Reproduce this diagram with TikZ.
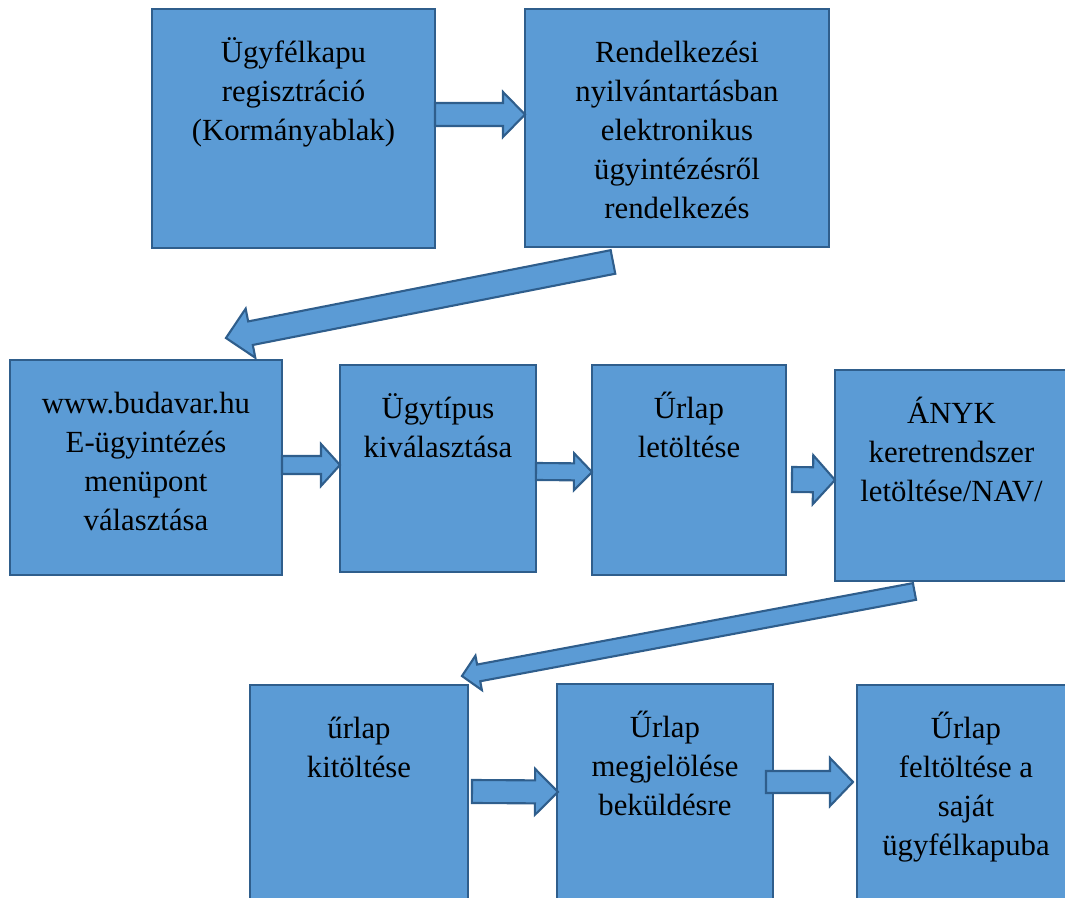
\documentclass[tikz,border=0pt]{standalone}
\usepackage{fontspec}
\setmainfont{Liberation Serif}
\usetikzlibrary{calc}
\definecolor{boxfill}{HTML}{5B9BD5}
\definecolor{boxline}{HTML}{2F5E8C}
% block arrow: start, tip, shaft half width, head half width, head length
\newcommand{\blockarrow}[5]{%
    \coordinate (ba-s) at #1;
    \coordinate (ba-t) at #2;
    \coordinate (ba-h) at ($(ba-t)!#5!(ba-s)$);
    \draw[barrow] ($(ba-s)!#3!90:(ba-t)$) -- ($(ba-h)!#3!-90:(ba-s)$)
        -- ($(ba-h)!#4!-90:(ba-s)$) -- (ba-t) -- ($(ba-h)!#4!90:(ba-s)$)
        -- ($(ba-h)!#3!90:(ba-s)$) -- ($(ba-s)!#3!-90:(ba-t)$) -- cycle;}

\begin{document}
\begin{tikzpicture}[x=0.02cm, y=-0.02cm]
    \tikzstyle{rec} = [rectangle, draw=boxline, fill=boxfill, line width=1.2pt, anchor=north west, outer sep=0pt, inner sep=0pt]
    \tikzstyle{txt} = [anchor=north, yshift=-15pt, inner sep=0pt, align=center, font=\fontsize{17.5}{22.1}\selectfont]
    \tikzstyle{barrow} = [draw=boxline, fill=boxfill, line width=1.2pt, line join=miter]

    \useasboundingbox (0,0) rectangle (1065,897);
    \clip (0,0) rectangle (1065,897);

    \node(kapu) [rec, minimum width=5.66cm, minimum height=4.78cm, label={[txt]north:{\strut Ügyfélkapu\\regisztráció\\(Kormányablak)}}] at (152,9) {};
    \node(rendel) [rec, minimum width=6.08cm, minimum height=4.76cm, label={[txt]north:{\strut Rendelkezési\\nyilvántartásban\\elektronikus\\ügyintézésről\\rendelkezés}}] at (525,9) {};

    \node(budavar) [rec, minimum width=5.44cm, minimum height=4.30cm, label={[txt]north:{\strut www.budavar.hu\\E-ügyintézés\\menüpont\\választása}}] at (10,360) {};
    \node(tipus) [rec, minimum width=3.92cm, minimum height=4.14cm, label={[txt]north:{\strut Ügytípus\\kiválasztása}}] at (340,365) {};
    \node(letolt) [rec, minimum width=3.88cm, minimum height=4.20cm, label={[txt]north:{\strut Űrlap\\letöltése}}] at (592,365) {};
    \node(anyk) [rec, minimum width=4.66cm, minimum height=4.22cm, label={[txt]north:{\strut ÁNYK\\keretrendszer\\letöltése/NAV/}}] at (835,370) {};

    \node(kitolt) [rec, minimum width=4.36cm, minimum height=5cm, label={[txt]north:{\strut űrlap\\kitöltése}}] at (250,685) {};
    \node(megjelol) [rec, minimum width=4.32cm, minimum height=5cm, label={[txt]north:{\strut Űrlap\\megjelölése\\beküldésre}}] at (557,684) {};
    \node(feltolt) [rec, minimum width=4.36cm, minimum height=5cm, label={[txt]north:{\strut Űrlap\\feltöltése a\\saját\\ügyfélkapuba}}] at (857,685) {};

    \blockarrow{([yshift=0.28cm]kapu.east)}{([yshift=0.27cm]rendel.west)}{0.23cm}{0.45cm}{0.44cm}
    \blockarrow{([xshift=1.76cm,yshift=-0.3cm]rendel.south west)}{([xshift=-1.12cm,yshift=0.44cm]budavar.north east)}{0.24cm}{0.5cm}{0.5cm}
    \blockarrow{([yshift=0.05cm]budavar.east)}{([yshift=0.07cm]tipus.west)}{0.18cm}{0.42cm}{0.38cm}
    \blockarrow{([yshift=-0.06cm]tipus.east)}{([yshift=-0.04cm]letolt.west)}{0.17cm}{0.37cm}{0.36cm}
    \blockarrow{([xshift=0.12cm,yshift=-0.19cm]letolt.east)}{([yshift=-0.09cm]anyk.west)}{0.25cm}{0.49cm}{0.44cm}
    \blockarrow{([xshift=1.59cm,yshift=-0.21cm]anyk.south west)}{([xshift=-0.12cm,yshift=0.18cm]kitolt.north east)}{0.17cm}{0.35cm}{0.34cm}
    \blockarrow{([xshift=0.08cm,yshift=-2.13cm]kitolt.north east)}{([xshift=0.02cm,yshift=-2.16cm]megjelol.north west)}{0.23cm}{0.46cm}{0.46cm}
    \blockarrow{([xshift=-0.14cm,yshift=-1.96cm]megjelol.north east)}{([xshift=-0.08cm,yshift=-1.94cm]feltolt.north west)}{0.22cm}{0.48cm}{0.46cm}
\end{tikzpicture}
\end{document}
